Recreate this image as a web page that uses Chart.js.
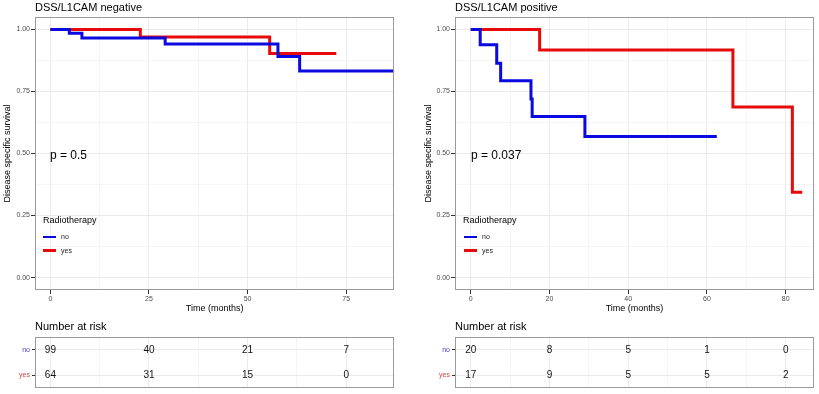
<!DOCTYPE html>
<html>
<head>
<meta charset="utf-8">
<title>DSS / L1CAM by radiotherapy</title>
<script src="https://cdn.jsdelivr.net/npm/chart.js"></script>
<style>
  body { margin: 0; background: #fff; font-family: 'Liberation Sans', Arial, sans-serif; }
  #page { position: relative; width: 819px; height: 394px; overflow: hidden; }
  .box { position: absolute; }
  .txt { position: absolute; white-space: nowrap; line-height: 1; color: #000; }
  .title { font-size: 11px; }
  .pval { font-size: 12px; }
  .legtitle { font-size: 9px; }
  .legitem { font-size: 7px; color: #222; }
  .key { position: absolute; width: 13px; height: 2.5px; }
</style>
</head>
<body>
<div id="page">
  <div class="box" style="left:0;top:0;width:410px;height:320px"><canvas id="survNeg"></canvas></div>
  <div class="box" style="left:410px;top:0;width:409px;height:320px"><canvas id="survPos"></canvas></div>
  <div class="box" style="left:0;top:315px;width:410px;height:79px"><canvas id="riskNeg"></canvas></div>
  <div class="box" style="left:410px;top:315px;width:409px;height:79px"><canvas id="riskPos"></canvas></div>

  <div class="txt title" style="left:35px;top:2px">DSS/L1CAM negative</div>
  <div class="txt title" style="left:455px;top:2px">DSS/L1CAM positive</div>

  <div class="txt pval" style="left:50px;top:149px">p = 0.5</div>
  <div class="txt pval" style="left:471px;top:149px">p = 0.037</div>

  <div class="txt legtitle" style="left:43px;top:215.5px">Radiotherapy</div>
  <div class="key" style="left:43px;top:235.5px;background:#0a0ae0"></div>
  <div class="txt legitem" style="left:61px;top:233px">no</div>
  <div class="key" style="left:43px;top:249px;background:#e60a0a"></div>
  <div class="txt legitem" style="left:61px;top:246.5px">yes</div>

  <div class="txt legtitle" style="left:463px;top:215.5px">Radiotherapy</div>
  <div class="key" style="left:464px;top:235.5px;background:#0a0ae0"></div>
  <div class="txt legitem" style="left:482px;top:233px">no</div>
  <div class="key" style="left:464px;top:249px;background:#e60a0a"></div>
  <div class="txt legitem" style="left:482px;top:246.5px">yes</div>

  <div class="txt title" style="left:35px;top:321px">Number at risk</div>
  <div class="txt title" style="left:455px;top:321px">Number at risk</div>
</div>

<script>
// ---- data ----
const groups = ['no', 'yes'];

// L1CAM negative: Kaplan-Meier steps (time in months, survival)
const negNoTime = [0, 4.8, 8.0, 29.1, 57.7, 63.2, 87.2];
const negNoSurv = [1, 0.985, 0.965, 0.941, 0.891, 0.832, 0.832];
const negYesTime = [0, 22.8, 55.6, 72.5];
const negYesSurv = [1, 0.969, 0.903, 0.903];

// L1CAM positive
const posNoTime = [0, 2.4, 6.6, 7.6, 15.3, 15.6, 29.0, 62.5];
const posNoSurv = [1, 0.938, 0.864, 0.793, 0.720, 0.649, 0.568, 0.568];
const posYesTime = [0, 17.5, 66.6, 81.7, 84.2];
const posYesSurv = [1, 0.917, 0.687, 0.344, 0.344];

// number at risk
const negRiskTimes = [0, 25, 50, 75];
const negRiskNo = [99, 40, 21, 7];
const negRiskYes = [64, 31, 15, 0];
const posRiskTimes = [0, 20, 40, 60, 80];
const posRiskNo = [20, 8, 5, 1, 0];
const posRiskYes = [17, 9, 5, 5, 2];

// axis ticks
const yMajor = [0, 0.25, 0.5, 0.75, 1];
const yMinor = [0.125, 0.375, 0.625, 0.875];
const negXMajor = [0, 25, 50, 75];
const negXMinor = [12.5, 37.5, 62.5];
const posXMajor = [0, 20, 40, 60, 80];
const posXMinor = [10, 30, 50, 70];

const BLUE = '#0a0ae0';
const RED = '#e60a0a';
const GRID = '#ebebeb';

Chart.defaults.font.family = "'Liberation Sans', Arial, sans-serif";
Chart.defaults.animation = false;

const toPoints = (t, s) => t.map((v, i) => ({ x: v, y: s[i] }));

// grey frame round the panel, like theme_bw
const panelBox = {
  id: 'panelBox',
  afterDatasetsDraw(chart) {
    const { ctx, chartArea: a } = chart;
    ctx.save();
    ctx.strokeStyle = '#9a9a9a';
    ctx.lineWidth = 1;
    ctx.strokeRect(Math.round(a.left) + 0.5, Math.round(a.top) + 0.5,
      Math.round(a.right - a.left) - 1, Math.round(a.bottom - a.top) - 1);
    ctx.restore();
  }
};

// writes the at-risk counts at the point positions
const riskLabels = {
  id: 'riskLabels',
  afterDatasetsDraw(chart) {
    const { ctx } = chart;
    ctx.save();
    ctx.font = "10px 'Liberation Sans', Arial, sans-serif";
    ctx.fillStyle = '#111';
    ctx.textAlign = 'center';
    ctx.textBaseline = 'middle';
    chart.data.datasets.forEach((ds, di) => {
      chart.getDatasetMeta(di).data.forEach((pt, i) => {
        ctx.fillText(String(ds.data[i].n), pt.x, pt.y);
      });
    });
    ctx.restore();
  }
};

function xScale(major, minor, min, max, withLabels, height) {
  const all = [...major, ...minor].sort((a, b) => a - b);
  const isMajor = c => c.tick && major.includes(c.tick.value);
  return {
    type: 'linear', min: min, max: max,
    afterBuildTicks: s => { s.ticks = all.map(v => ({ value: v })); },
    afterFit: s => { s.height = height; },
    ticks: {
      display: withLabels, autoSkip: false, maxRotation: 0, padding: 1,
      font: { size: 7 }, color: '#4d4d4d',
      callback: v => major.includes(v) ? String(v) : ''
    },
    grid: {
      color: GRID,
      lineWidth: c => isMajor(c) ? 1 : 0.5,
      drawTicks: withLabels,
      tickLength: 4,
      tickColor: c => isMajor(c) ? '#333' : 'rgba(0,0,0,0)'
    },
    border: { display: false },
    title: {
      display: withLabels, text: 'Time (months)', color: '#000',
      font: { size: 9 }, padding: { top: 0, bottom: 5.6 }
    }
  };
}

function survivalChart(id, cfg) {
  const yAll = [...yMajor, ...yMinor].sort((a, b) => a - b);
  const isMajor = c => c.tick && yMajor.includes(c.tick.value);
  new Chart(document.getElementById(id), {
    type: 'line',
    data: {
      datasets: [
        { label: 'no', data: toPoints(cfg.noT, cfg.noS), borderColor: BLUE, borderWidth: 3, stepped: 'before', pointRadius: 0 },
        { label: 'yes', data: toPoints(cfg.yesT, cfg.yesS), borderColor: RED, borderWidth: 3, stepped: 'before', pointRadius: 0 }
      ]
    },
    options: {
      responsive: true,
      maintainAspectRatio: false,
      layout: { padding: { top: 17, right: cfg.padRight, left: 0, bottom: 0 } },
      plugins: { legend: { display: false }, tooltip: { enabled: false } },
      scales: {
        x: xScale(cfg.xMajor, cfg.xMinor, cfg.xMin, cfg.xMax, true, 30),
        y: {
          type: 'linear', min: -0.05, max: 1.05,
          afterBuildTicks: s => { s.ticks = yAll.map(v => ({ value: v })); },
          afterFit: s => { s.width = cfg.yWidth; },
          ticks: {
            autoSkip: false, padding: 1, font: { size: 7 }, color: '#4d4d4d',
            callback: v => yMajor.includes(v) ? v.toFixed(2) : ''
          },
          grid: {
            color: GRID,
            lineWidth: c => isMajor(c) ? 1 : 0.5,
            tickLength: 4,
            tickColor: c => isMajor(c) ? '#333' : 'rgba(0,0,0,0)'
          },
          border: { display: false },
          title: {
            display: true, text: 'Disease specific survival', color: '#000',
            font: { size: 9 }, padding: { top: cfg.yTitlePad, bottom: 0 }
          }
        }
      }
    },
    plugins: [panelBox]
  });
}

function riskChart(id, cfg) {
  const mk = (group, counts) => cfg.times.map((t, i) => ({ x: t, y: group, n: counts[i] }));
  new Chart(document.getElementById(id), {
    type: 'line',
    data: {
      datasets: [
        { data: mk('no', cfg.no), showLine: false, pointRadius: 0 },
        { data: mk('yes', cfg.yes), showLine: false, pointRadius: 0 }
      ]
    },
    options: {
      responsive: true,
      maintainAspectRatio: false,
      layout: { padding: { top: 22.3, right: cfg.padRight, left: 0, bottom: 2.4 } },
      plugins: { legend: { display: false }, tooltip: { enabled: false } },
      scales: {
        x: xScale(cfg.xMajor, cfg.xMinor, cfg.xMin, cfg.xMax, false, 0),
        y: {
          type: 'category', labels: groups, offset: true,
          afterFit: s => { s.width = cfg.yWidth; },
          ticks: {
            padding: 2, font: { size: 7 },
            color: c => c.index === 0 ? '#3c3cd8' : '#e03c3c'
          },
          grid: { color: GRID, tickLength: 3, tickColor: '#333' },
          border: { display: false }
        }
      }
    },
    plugins: [panelBox, riskLabels]
  });
}

survivalChart('survNeg', {
  noT: negNoTime, noS: negNoSurv, yesT: negYesTime, yesS: negYesSurv,
  xMajor: negXMajor, xMinor: negXMinor, xMin: -3.9, xMax: 87.2,
  padRight: 15.7, yWidth: 35, yTitlePad: 2.6
});
survivalChart('survPos', {
  noT: posNoTime, noS: posNoSurv, yesT: posYesTime, yesS: posYesSurv,
  xMajor: posXMajor, xMinor: posXMinor, xMin: -4.0, xMax: 87.2,
  padRight: 5, yWidth: 45, yTitlePad: 13.6
});
riskChart('riskNeg', {
  times: negRiskTimes, no: negRiskNo, yes: negRiskYes,
  xMajor: negXMajor, xMinor: negXMinor, xMin: -3.9, xMax: 87.2,
  padRight: 15.7, yWidth: 35
});
riskChart('riskPos', {
  times: posRiskTimes, no: posRiskNo, yes: posRiskYes,
  xMajor: posXMajor, xMinor: posXMinor, xMin: -4.0, xMax: 87.2,
  padRight: 5, yWidth: 45
});
</script>
</body>
</html>
